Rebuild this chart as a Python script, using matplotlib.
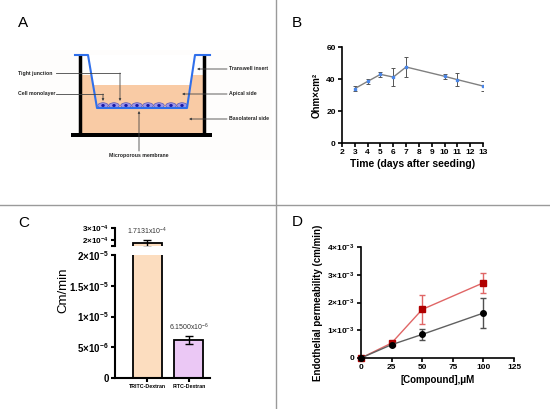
import matplotlib.pyplot as plt
from matplotlib.patches import Rectangle, Ellipse, Polygon

plt.rcParams['font.family'] = ['Liberation Sans', 'DejaVu Sans']
plt.rcParams['mathtext.fontset'] = 'custom'
plt.rcParams['mathtext.rm'] = 'Liberation Sans'
plt.rcParams['mathtext.it'] = 'Liberation Sans:italic'
plt.rcParams['mathtext.bf'] = 'Liberation Sans:bold'

# B: TEER over time
days = [3, 4, 5, 6, 7, 10, 11, 13]
teer = [34.0, 38.5, 42.9, 41.2, 47.5, 41.7, 39.6, 35.6]
teer_err = [1.5, 1.5, 1.5, 5.4, 6.0, 1.5, 4.2, 3.0]

# C: apparent permeability of dextrans
dextran = ['TRITC-Dextran', 'FITC-Dextran']
papp = [1.7131e-4, 6.15e-6]
papp_err = [0.3e-4, 0.65e-6]
papp_text = [r'$1.7131\mathrm{x}10^{-4}$', r'$6.1500\mathrm{x}10^{-6}$']
bar_colors = ['#FCDDBF', '#EBC8F5']

# D: endothelial permeability vs compound
conc = [0, 25, 50, 100]
perm_red = [0, 0.54e-3, 1.75e-3, 2.71e-3]
perm_red_err = [0, 0.03e-3, 0.52e-3, 0.36e-3]
perm_black = [0, 0.48e-3, 0.85e-3, 1.62e-3]
perm_black_err = [0, 0.03e-3, 0.19e-3, 0.55e-3]

W, H = 550, 409
fig = plt.figure(figsize=(5.5, 4.09), dpi=100)


def rect(x0, y0, x1, y1):
    return [x0 / W, 1 - y1 / H, (x1 - x0) / W, (y1 - y0) / H]


def sci(m, e):
    return r'$\mathbf{%s×10^{%d}}$' % (m, e)


def style(ax, lw=1.2, size=6):
    for s in ['top', 'right']:
        ax.spines[s].set_visible(False)
    for s in ['left', 'bottom']:
        ax.spines[s].set_linewidth(lw)
    ax.tick_params(width=lw, length=3, labelsize=size, pad=1.5)
    for lab in ax.get_xticklabels() + ax.get_yticklabels():
        lab.set_fontweight('bold')
    ax.set_facecolor('none')


# background / panel A drawing
ax0 = fig.add_axes([0, 0, 1, 1])
ax0.set_xlim(0, W)
ax0.set_ylim(H, 0)
ax0.axis('off')
ax0.plot([276, 276], [0, H], color='#9a9a9a', lw=1)
ax0.plot([0, W], [205, 205], color='#9a9a9a', lw=1)

ax0.add_patch(Rectangle((20, 50), 252, 110, fc='#fefdfc', ec='none'))
ax0.add_patch(Rectangle((81, 75), 122, 58, fc='#F9CBA5', ec='none'))
ax0.add_patch(Polygon([(88, 55), (195, 55), (190.5, 85), (93.1, 85)], fc='white', ec='none'))
ax0.plot([80, 80], [57, 133], color='black', lw=2.5)
ax0.plot([204, 204], [57, 133], color='black', lw=2.5)
ax0.add_patch(Rectangle((71, 133), 141, 4, fc='black', ec='none'))
ax0.plot([75, 88, 97, 187, 195, 210], [55, 55, 108, 108, 55, 55], color='#2F6FEB', lw=1.5)
for cx in [103, 114, 126, 137, 148, 159, 171, 182]:
    ax0.add_patch(Ellipse((cx, 105.5), 10.5, 5.5, fc='#9D94E8', ec='#4a4aa8', lw=0.4))
    ax0.add_patch(Ellipse((cx, 105.5), 3.5, 3, fc='#1b1ba5', ec='none'))

arrow = dict(arrowstyle='-|>', color='#444444', lw=0.6, mutation_scale=3, shrinkA=0, shrinkB=0)
lab_kw = dict(fontsize=3.7, fontweight='bold', va='center', color='#222222')
ax0.text(18, 73, 'Tight junction', ha='left', **lab_kw)
ax0.plot([56, 120], [73, 73], color='#444444', lw=0.6)
ax0.annotate('', xy=(120, 101), xytext=(120, 73), arrowprops=arrow)
ax0.text(18, 94, 'Cell monolayer', ha='left', **lab_kw)
ax0.plot([56, 103], [94, 94], color='#444444', lw=0.6)
ax0.annotate('', xy=(103, 101), xytext=(103, 94), arrowprops=arrow)
ax0.text(229, 69, 'Transwell insert', ha='left', **lab_kw)
ax0.annotate('', xy=(197, 69), xytext=(227, 69), arrowprops=arrow)
ax0.text(229, 94, 'Apical side', ha='left', **lab_kw)
ax0.annotate('', xy=(182, 94), xytext=(227, 94), arrowprops=arrow)
ax0.text(229, 119, 'Basolateral side', ha='left', **lab_kw)
ax0.annotate('', xy=(189, 119), xytext=(227, 119), arrowprops=arrow)
ax0.text(139, 155, 'Microporous membrane', ha='center', **lab_kw)
ax0.annotate('', xy=(139, 111), xytext=(139, 151), arrowprops=arrow)

for letter, x, y in [('A', 18, 23), ('B', 292, 23), ('C', 18, 223), ('D', 292, 222)]:
    ax0.text(x, y, letter, fontsize=11, ha='left', va='center')

# panel B
axb = fig.add_axes(rect(342, 47, 483, 143))
axb.errorbar(days, teer, yerr=teer_err, color='#808080', lw=1, ecolor='#555555',
             elinewidth=0.7, capsize=1.2, capthick=0.7, marker='s', ms=2,
             mfc='#4A86E8', mec='#4A86E8', zorder=3)
axb.set_xlim(2, 13)
axb.set_ylim(0, 60)
axb.set_xticks(range(2, 14))
axb.set_yticks([0, 20, 40, 60])
axb.set_xlabel('Time (days after seeding)', fontsize=7.5, fontweight='bold', labelpad=2)
axb.set_ylabel('Ohm×cm²', fontsize=7, fontweight='bold', labelpad=3)
style(axb)

# panel C (broken y axis)
xs = [0, 1]
axc = fig.add_axes(rect(115, 255, 210, 378))
axc_top = fig.add_axes(rect(115, 228, 210, 246))
for ax in (axc, axc_top):
    ax.bar(xs, papp, width=0.7, color=bar_colors, edgecolor='black', lw=1.3)
    ax.errorbar(xs, papp, yerr=papp_err, fmt='none', ecolor='black', elinewidth=1,
                capsize=3, capthick=1)
    ax.set_xlim(-0.78, 1.51)
axc.set_ylim(0, 2e-5)
axc.set_yticks([0, 5e-6, 1e-5, 1.5e-5, 2e-5])
axc.set_yticklabels(['0', sci('5', -6), sci('1', -5), sci('1.5', -5), sci('2', -5)])
axc.set_xticks(xs)
axc.set_xticklabels(dextran)
style(axc, lw=1.5, size=7)
axc.tick_params(axis='x', labelsize=3.8)
ax0.text(63, 290, 'Cm/min', rotation=90, ha='center', va='center', fontsize=9.5)
axc_top.set_ylim(1.5e-4, 3.0e-4)
axc_top.set_yticks([1.5e-4, 2e-4, 3e-4])
axc_top.set_yticklabels(['', sci('2', -4), sci('3', -4)])
axc_top.set_xticks([])
style(axc_top, lw=1.5, size=5.8)
axc_top.spines['bottom'].set_visible(False)
axc_top.annotate(papp_text[0], (xs[0], papp[0] + papp_err[0]), xytext=(0, 2),
                 textcoords='offset points', ha='center', va='bottom', fontsize=5,
                 color='#333333')
axc.annotate(papp_text[1], (xs[1], papp[1] + papp_err[1]), xytext=(0, 2),
             textcoords='offset points', ha='center', va='bottom', fontsize=5,
             color='#333333')

# panel D
axd = fig.add_axes(rect(361, 247, 514, 358))
axd.errorbar(conc, perm_black, yerr=perm_black_err, color='#606060', lw=1,
             ecolor='#505050', elinewidth=1, capsize=2, capthick=1, marker='o', ms=4,
             mfc='black', mec='black', zorder=3, clip_on=False)
axd.errorbar(conc, perm_red, yerr=perm_red_err, color='#E06666', lw=1,
             ecolor='#E06666', elinewidth=1, capsize=2, capthick=1, marker='s', ms=4,
             mfc='#B00000', mec='#B00000', zorder=2, clip_on=False)
axd.set_xlim(0, 125)
axd.set_ylim(0, 4e-3)
axd.set_xticks([0, 25, 50, 75, 100, 125])
axd.set_yticks([0, 1e-3, 2e-3, 3e-3, 4e-3])
axd.set_yticklabels(['0', sci('1', -3), sci('2', -3), sci('3', -3), sci('4', -3)])
axd.set_xlabel('[Compound],μM', fontsize=7, fontweight='bold', labelpad=3)
axd.set_ylabel('Endothelial permeability (cm/min)', fontsize=7, fontweight='bold', labelpad=3)
style(axd, size=6)

fig.savefig('out.png', dpi=100)
